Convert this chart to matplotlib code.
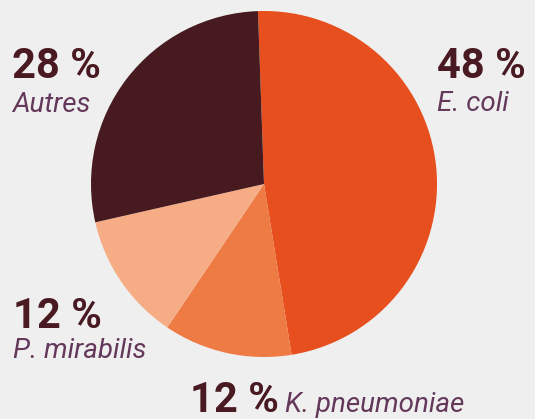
import matplotlib
matplotlib.use("Agg")
import matplotlib.pyplot as plt

# données
labels = ['E. coli', 'K. pneumoniae', 'P. mirabilis', 'Autres']
parts = [48, 12, 12, 28]
colors = ['#e84f1f', '#ee7a44', '#f6ad86', '#461a1e']

W, H = 535, 419
bg = '#efefef'
fig = plt.figure(figsize=(W / 100, H / 100), dpi=100, facecolor=bg)

# pie placée en pixels
cx, cy, r = 264, 184, 173
ax = fig.add_axes([(cx - r) / W, (H - cy - r) / H, 2 * r / W, 2 * r / H])
ax.pie(parts, colors=colors, startangle=92, counterclock=False,
       wedgeprops=dict(linewidth=0), radius=1)
ax.set_xlim(-1, 1)
ax.set_ylim(-1, 1)
ax.set_aspect('equal')
ax.axis('off')

pct_col = '#4a1a22'
name_col = '#64385a'

def put(x, y, s, bold=True, ha='left'):
    # x, y en pixels depuis le coin haut-gauche, y = ligne de base
    if bold:
        fig.text(x / W, 1 - y / H, s, fontsize=30, fontweight='bold', color=pct_col,
                 family='Roboto', ha=ha, va='baseline')
    else:
        fig.text(x / W, 1 - y / H, s, fontsize=20, style='italic', color=name_col,
                 family='Roboto', ha=ha, va='baseline')

put(12, 78, '%d %%' % parts[3])
put(12, 112, labels[3], bold=False)
put(437, 78, '%d %%' % parts[0])
put(437, 111, labels[0], bold=False)
put(13, 328, '%d %%' % parts[2])
put(13, 358, labels[2], bold=False)
put(190, 412, '%d %%' % parts[1])
put(285, 412, labels[1], bold=False)

fig.savefig('out.png', dpi=100, facecolor=bg)
